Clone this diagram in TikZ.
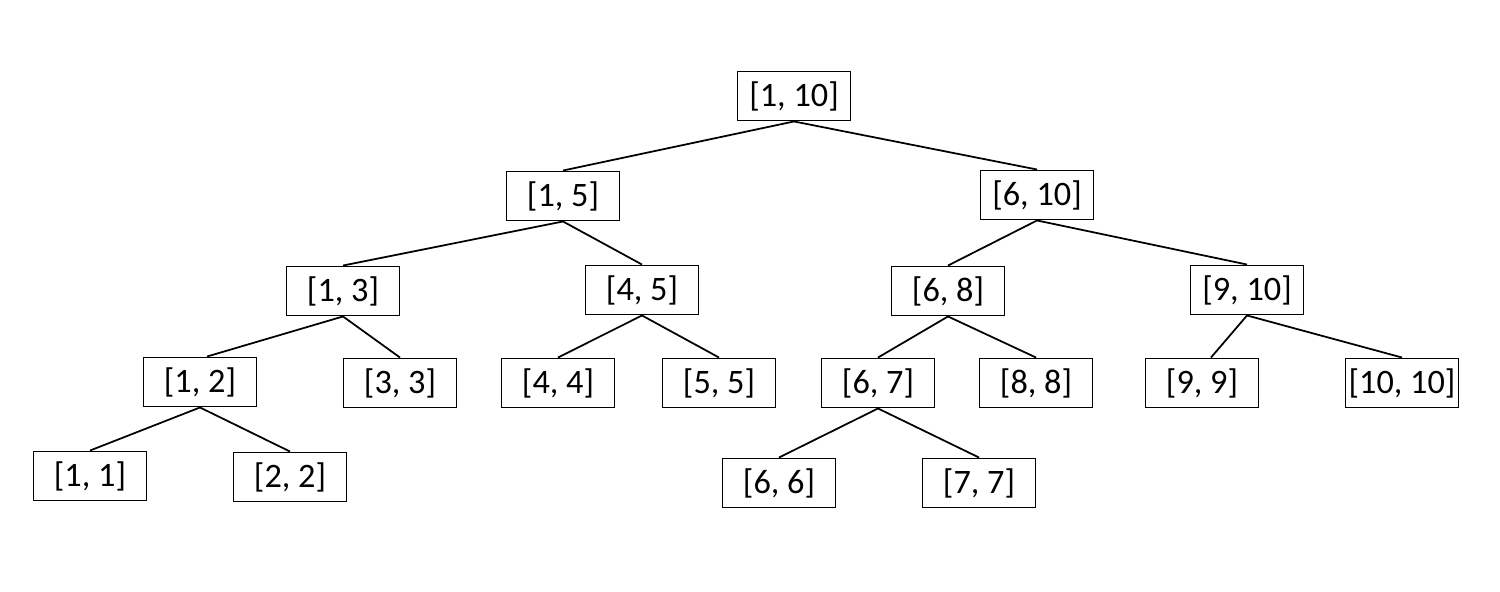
\documentclass[tikz,border=0pt]{standalone}
\usepackage{fontspec}
\setmainfont{Carlito}
\begin{document}
\begin{tikzpicture}[
  seg/.style={draw=black, line width=1.1pt, fill=white, minimum width=2.26cm, minimum height=0.98cm, inner sep=0pt, font=\fontsize{19.5}{22}\selectfont},
  link/.style={draw=black, line width=1pt}
]
\useasboundingbox (0,0) rectangle (30,-11.84);
\node[seg] (n110) at (15.88,-1.92) {[1, 10]};
\node[seg] (n15) at (11.26,-3.92) {[1, 5]};
\node[seg] (n610) at (20.74,-3.90) {[6, 10]};
\node[seg] (n13) at (6.86,-5.82) {[1, 3]};
\node[seg] (n45) at (12.84,-5.80) {[4, 5]};
\node[seg] (n68) at (18.96,-5.82) {[6, 8]};
\node[seg] (n910) at (24.94,-5.80) {[9, 10]};
\node[seg] (n12) at (4.00,-7.64) {[1, 2]};
\node[seg] (n33) at (8.00,-7.66) {[3, 3]};
\node[seg] (n44) at (11.16,-7.66) {[4, 4]};
\node[seg] (n55) at (14.38,-7.66) {[5, 5]};
\node[seg] (n67) at (17.56,-7.66) {[6, 7]};
\node[seg] (n88) at (20.72,-7.66) {[8, 8]};
\node[seg] (n99) at (24.04,-7.66) {[9, 9]};
\node[seg] (n1010) at (28.04,-7.66) {[10, 10]};
\node[seg] (n11) at (1.80,-9.52) {[1, 1]};
\node[seg] (n22) at (5.80,-9.54) {[2, 2]};
\node[seg] (n66) at (15.58,-9.66) {[6, 6]};
\node[seg] (n77) at (19.58,-9.66) {[7, 7]};
\draw[link] (n110.south) -- (n15.north);
\draw[link] (n110.south) -- (n610.north);
\draw[link] (n15.south) -- (n13.north);
\draw[link] (n15.south) -- (n45.north);
\draw[link] (n610.south) -- (n68.north);
\draw[link] (n610.south) -- (n910.north);
\draw[link] (n13.south) -- ([xshift=0.14cm]n12.north);
\draw[link] (n13.south) -- (n33.north);
\draw[link] (n45.south) -- (n44.north);
\draw[link] (n45.south) -- (n55.north);
\draw[link] (n68.south) -- (n67.north);
\draw[link] (n68.south) -- (n88.north);
\draw[link] (n910.south) -- ([xshift=0.18cm]n99.north);
\draw[link] (n910.south) -- (n1010.north);
\draw[link] (n12.south) -- (n11.north);
\draw[link] (n12.south) -- (n22.north);
\draw[link] (n67.south) -- (n66.north);
\draw[link] (n67.south) -- (n77.north);
\end{tikzpicture}
\end{document}
